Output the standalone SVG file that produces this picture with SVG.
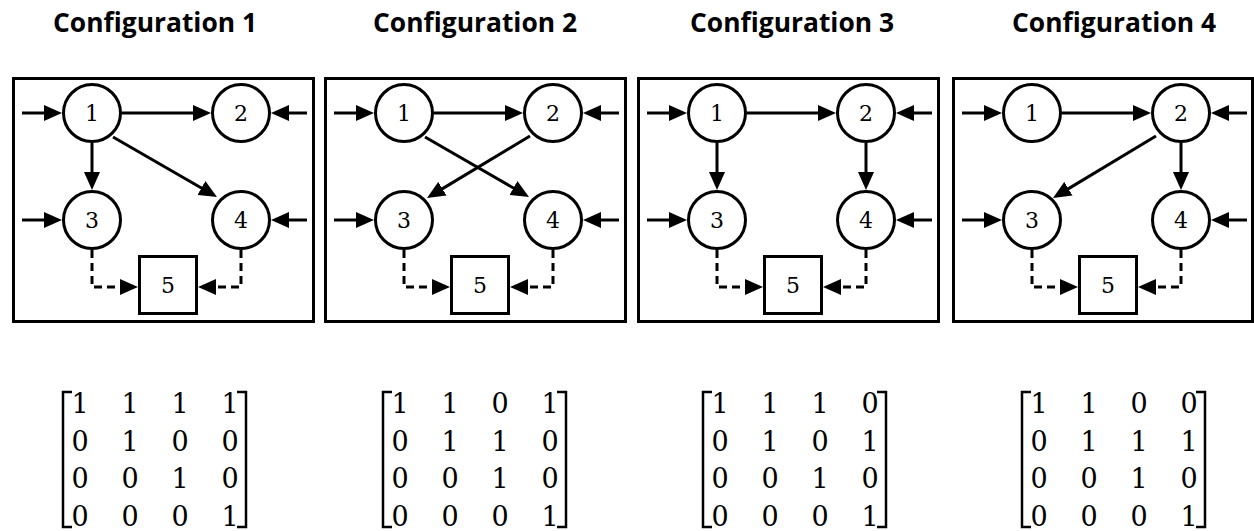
<svg xmlns="http://www.w3.org/2000/svg" width="1254" height="531" viewBox="0 0 1254 531">
<defs>
<style>
.title{font-family:"Open Sans","Liberation Sans",sans-serif;font-weight:700;font-size:26px;fill:#000;text-anchor:middle}
.frame{fill:none;stroke:#000;stroke-width:3}
.node{fill:#fff;stroke:#000;stroke-width:3}
.lbl{font-family:"DejaVu Serif","Liberation Serif",serif;font-size:22px;fill:#000;text-anchor:middle}
.edge{fill:none;stroke:#000;stroke-width:3;marker-end:url(#ah)}
.dash{fill:none;stroke:#000;stroke-width:3;stroke-dasharray:8 5;marker-end:url(#ah)}
.mat{font-family:"DejaVu Serif","Liberation Serif",serif;font-size:27px;fill:#000;text-anchor:middle}
.br{fill:none;stroke:#000;stroke-width:2.5}
</style>
<marker id="ah" markerUnits="userSpaceOnUse" markerWidth="18" markerHeight="16" refX="10" refY="8" orient="auto" viewBox="0 0 18 16">
<path d="M0,0 L18,8 L0,16 z" fill="#000"/>
</marker>
</defs>
<rect width="1254" height="531" fill="#fff"/>

<g id="titles">
<text class="title" x="155" y="32" textLength="204" lengthAdjust="spacingAndGlyphs">Configuration 1</text>
<text class="title" x="475" y="32" textLength="204" lengthAdjust="spacingAndGlyphs">Configuration 2</text>
<text class="title" x="792" y="32" textLength="204" lengthAdjust="spacingAndGlyphs">Configuration 3</text>
<text class="title" x="1114" y="32" textLength="204" lengthAdjust="spacingAndGlyphs">Configuration 4</text>
</g>

<!-- Panel 1 -->
<g id="config1" transform="translate(12,0)">
<rect class="frame" x="1.5" y="78.5" width="300" height="243"/>
<g id="c1-connectors">
<line class="edge" x1="10" y1="113" x2="42" y2="113"/>
<line class="edge" x1="295" y1="113" x2="267" y2="113"/>
<line class="edge" x1="10" y1="220" x2="42" y2="220"/>
<line class="edge" x1="295" y1="220" x2="267" y2="220"/>
<line class="edge" x1="110" y1="113" x2="191" y2="113"/>
<line class="edge" x1="80" y1="143" x2="80" y2="182"/>
<line class="edge" x1="101" y1="137" x2="198.07" y2="193"/>
<path class="dash" d="M80,250 V287 H118"/>
<path class="dash" d="M229,250 V287 H194"/>
</g>
<g id="c1-n1"><circle class="node" cx="80" cy="113" r="28.5"/><text class="lbl" x="80" y="121">1</text></g>
<g id="c1-n2"><circle class="node" cx="229" cy="113" r="28.5"/><text class="lbl" x="229" y="121">2</text></g>
<g id="c1-n3"><circle class="node" cx="80" cy="220" r="28.5"/><text class="lbl" x="80" y="228">3</text></g>
<g id="c1-n4"><circle class="node" cx="229" cy="220" r="28.5"/><text class="lbl" x="229" y="228">4</text></g>
<g id="c1-n5"><rect class="node" x="127.5" y="256.5" width="57" height="57"/><text class="lbl" x="156" y="293">5</text></g>
</g>

<!-- Panel 2 -->
<g id="config2" transform="translate(324,0)">
<rect class="frame" x="1.5" y="78.5" width="300" height="243"/>
<g id="c2-connectors">
<line class="edge" x1="10" y1="113" x2="42" y2="113"/>
<line class="edge" x1="295" y1="113" x2="267" y2="113"/>
<line class="edge" x1="10" y1="220" x2="42" y2="220"/>
<line class="edge" x1="295" y1="220" x2="267" y2="220"/>
<line class="edge" x1="110" y1="113" x2="191" y2="113"/>
<line class="edge" x1="101" y1="137" x2="198.07" y2="193"/>
<line class="edge" x1="206" y1="136" x2="109.86" y2="193.87"/>
<path class="dash" d="M80,250 V287 H118"/>
<path class="dash" d="M229,250 V287 H194"/>
</g>
<g id="c2-n1"><circle class="node" cx="80" cy="113" r="28.5"/><text class="lbl" x="80" y="121">1</text></g>
<g id="c2-n2"><circle class="node" cx="229" cy="113" r="28.5"/><text class="lbl" x="229" y="121">2</text></g>
<g id="c2-n3"><circle class="node" cx="80" cy="220" r="28.5"/><text class="lbl" x="80" y="228">3</text></g>
<g id="c2-n4"><circle class="node" cx="229" cy="220" r="28.5"/><text class="lbl" x="229" y="228">4</text></g>
<g id="c2-n5"><rect class="node" x="127.5" y="256.5" width="57" height="57"/><text class="lbl" x="156" y="293">5</text></g>
</g>

<!-- Panel 3 -->
<g id="config3" transform="translate(637,0)">
<rect class="frame" x="1.5" y="78.5" width="300" height="243"/>
<g id="c3-connectors">
<line class="edge" x1="10" y1="113" x2="42" y2="113"/>
<line class="edge" x1="295" y1="113" x2="267" y2="113"/>
<line class="edge" x1="10" y1="220" x2="42" y2="220"/>
<line class="edge" x1="295" y1="220" x2="267" y2="220"/>
<line class="edge" x1="110" y1="113" x2="191" y2="113"/>
<line class="edge" x1="80" y1="143" x2="80" y2="182"/>
<line class="edge" x1="229" y1="143" x2="229" y2="182"/>
<path class="dash" d="M80,250 V287 H118"/>
<path class="dash" d="M229,250 V287 H194"/>
</g>
<g id="c3-n1"><circle class="node" cx="80" cy="113" r="28.5"/><text class="lbl" x="80" y="121">1</text></g>
<g id="c3-n2"><circle class="node" cx="229" cy="113" r="28.5"/><text class="lbl" x="229" y="121">2</text></g>
<g id="c3-n3"><circle class="node" cx="80" cy="220" r="28.5"/><text class="lbl" x="80" y="228">3</text></g>
<g id="c3-n4"><circle class="node" cx="229" cy="220" r="28.5"/><text class="lbl" x="229" y="228">4</text></g>
<g id="c3-n5"><rect class="node" x="127.5" y="256.5" width="57" height="57"/><text class="lbl" x="156" y="293">5</text></g>
</g>

<!-- Panel 4 -->
<g id="config4" transform="translate(952,0)">
<rect class="frame" x="1.5" y="78.5" width="299" height="243"/>
<g id="c4-connectors">
<line class="edge" x1="10" y1="113" x2="42" y2="113"/>
<line class="edge" x1="295" y1="113" x2="267" y2="113"/>
<line class="edge" x1="10" y1="220" x2="42" y2="220"/>
<line class="edge" x1="295" y1="220" x2="267" y2="220"/>
<line class="edge" x1="110" y1="113" x2="191" y2="113"/>
<line class="edge" x1="229" y1="143" x2="229" y2="182"/>
<line class="edge" x1="204" y1="136" x2="107.86" y2="193.87"/>
<path class="dash" d="M80,250 V287 H118"/>
<path class="dash" d="M229,250 V287 H194"/>
</g>
<g id="c4-n1"><circle class="node" cx="80" cy="113" r="28.5"/><text class="lbl" x="80" y="121">1</text></g>
<g id="c4-n2"><circle class="node" cx="229" cy="113" r="28.5"/><text class="lbl" x="229" y="121">2</text></g>
<g id="c4-n3"><circle class="node" cx="80" cy="220" r="28.5"/><text class="lbl" x="80" y="228">3</text></g>
<g id="c4-n4"><circle class="node" cx="229" cy="220" r="28.5"/><text class="lbl" x="229" y="228">4</text></g>
<g id="c4-n5"><rect class="node" x="127.5" y="256.5" width="57" height="57"/><text class="lbl" x="156" y="293">5</text></g>
</g>

<!-- Matrices -->
<g id="matrix1">
<path class="br" d="M72,392 H63 V527 H72"/>
<path class="br" d="M237,392 H246 V527 H237"/>
<text class="mat" y="413"><tspan x="80">1</tspan><tspan x="130">1</tspan><tspan x="180">1</tspan><tspan x="230">1</tspan></text>
<text class="mat" y="451"><tspan x="80">0</tspan><tspan x="130">1</tspan><tspan x="180">0</tspan><tspan x="230">0</tspan></text>
<text class="mat" y="488"><tspan x="80">0</tspan><tspan x="130">0</tspan><tspan x="180">1</tspan><tspan x="230">0</tspan></text>
<text class="mat" y="526"><tspan x="80">0</tspan><tspan x="130">0</tspan><tspan x="180">0</tspan><tspan x="230">1</tspan></text>
</g>
<g id="matrix2" transform="translate(320,0)">
<path class="br" d="M72,392 H63 V527 H72"/>
<path class="br" d="M237,392 H246 V527 H237"/>
<text class="mat" y="413"><tspan x="80">1</tspan><tspan x="130">1</tspan><tspan x="180">0</tspan><tspan x="230">1</tspan></text>
<text class="mat" y="451"><tspan x="80">0</tspan><tspan x="130">1</tspan><tspan x="180">1</tspan><tspan x="230">0</tspan></text>
<text class="mat" y="488"><tspan x="80">0</tspan><tspan x="130">0</tspan><tspan x="180">1</tspan><tspan x="230">0</tspan></text>
<text class="mat" y="526"><tspan x="80">0</tspan><tspan x="130">0</tspan><tspan x="180">0</tspan><tspan x="230">1</tspan></text>
</g>
<g id="matrix3" transform="translate(640,0)">
<path class="br" d="M72,392 H63 V527 H72"/>
<path class="br" d="M237,392 H246 V527 H237"/>
<text class="mat" y="413"><tspan x="80">1</tspan><tspan x="130">1</tspan><tspan x="180">1</tspan><tspan x="230">0</tspan></text>
<text class="mat" y="451"><tspan x="80">0</tspan><tspan x="130">1</tspan><tspan x="180">0</tspan><tspan x="230">1</tspan></text>
<text class="mat" y="488"><tspan x="80">0</tspan><tspan x="130">0</tspan><tspan x="180">1</tspan><tspan x="230">0</tspan></text>
<text class="mat" y="526"><tspan x="80">0</tspan><tspan x="130">0</tspan><tspan x="180">0</tspan><tspan x="230">1</tspan></text>
</g>
<g id="matrix4" transform="translate(959,0)">
<path class="br" d="M72,392 H63 V527 H72"/>
<path class="br" d="M237,392 H246 V527 H237"/>
<text class="mat" y="413"><tspan x="80">1</tspan><tspan x="130">1</tspan><tspan x="180">0</tspan><tspan x="230">0</tspan></text>
<text class="mat" y="451"><tspan x="80">0</tspan><tspan x="130">1</tspan><tspan x="180">1</tspan><tspan x="230">1</tspan></text>
<text class="mat" y="488"><tspan x="80">0</tspan><tspan x="130">0</tspan><tspan x="180">1</tspan><tspan x="230">0</tspan></text>
<text class="mat" y="526"><tspan x="80">0</tspan><tspan x="130">0</tspan><tspan x="180">0</tspan><tspan x="230">1</tspan></text>
</g>
</svg>
